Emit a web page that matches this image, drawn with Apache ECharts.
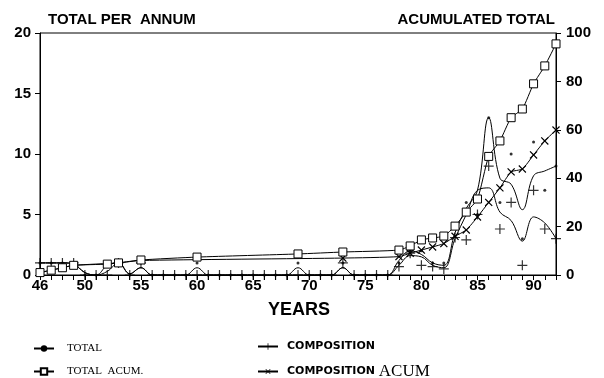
<!DOCTYPE html>
<html><head><meta charset="utf-8">
<script src="https://cdn.jsdelivr.net/npm/echarts@6/dist/echarts.min.js"></script>
<style>html,body{margin:0;padding:0;background:#fff}#c{width:604px;height:378px}</style>
</head><body><div id="c"></div>
<script>
// Years 46..92
const years = [];
for (let y = 46; y <= 92; y++) years.push(y);

// TOTAL per annum: data points (dots), one per year 46..92
const totalPoints = [1,1,1,1,0,0,1,1,0,1, 0,0,0,0,1,0,0,0,0,0, 0,0,0,1,0,0,0,1,0,0, 0,0,1,2,2,1,1,4,6,5, 13,6,10,3,11,7,9];
// TOTAL smoothed curve as drawn
const totalCurve = [1,1,1,0.9,0.2,0,0.8,1,0.1,0.6, 0,0,0,0,0.6,0,0,0,0,0, 0,0,0,0.6,0,0,0,0.6,0,0, 0,0,1.2,2,1.7,1,0.8,3.5,5.5,7, 13,8,7.5,5.4,8.2,8.6,9];
// COMPOSITION per annum points (+)
const compPoints = [1,1,1,1,0,0,0,1,0,1, 0,0,0,0,0,0,0,0,0,0, 0,0,0,0,0,0,0,1,0,0, 0,0,0.7,1.8,0.8,0.7,0.5,3.1,2.9,5, 9,3.8,6,0.8,7,3.8,3];
// COMPOSITION smoothed curve as drawn
const compCurve = [1,1,1,0.9,0.2,0,0.3,1,0.1,0.6, 0,0,0,0,0,0,0,0,0,0, 0,0,0,0,0,0,0,0.6,0,0, 0,0,0.8,1.6,1.5,0.8,0.6,3,5,7, 7.2,5.2,4.5,2.8,4.8,4.3,3];
// TOTAL ACUM (right axis), only at years where it changes
const totalAcumYears = [46,47,48,49,52,53,55,60,69,73,78,79,80,81,82,83,84,85,86,87,88,89,90,91,92];
const totalAcum      = [1,2,3,4,4.5,5,6.2,7.4,8.7,9.5,10.3,12,14.5,15.3,16.1,20.2,26,31.4,49,55.4,65,68.6,79,86.4,95.5];
// COMPOSITION ACUM (right axis)
const compAcumYears = [46,47,48,49,53,55,73,78,79,80,81,82,83,84,85,86,87,88,89,90,91,92];
const compAcum      = [1,2,3,4,5,6,7,7.6,9,10.3,11.6,13,16,18.6,24,30,36,42.6,43.8,49.6,55.4,59.9];

const xTickLabels = [46,50,55,60,65,70,75,80,85,90];

const pair = (xs, ys) => xs.map((x, i) => [x, ys[i]]);
const PLUS = 'path://M4.4,0h1.2v4.4h4.4v1.2h-4.4v4.4h-1.2v-4.4h-4.4v-1.2h4.4z';
const lbl = {fontFamily:'Liberation Sans', fontWeight:'bold', fontSize:15, color:'#000'};
const serif = {fontFamily:'Liberation Serif', fontSize:11, color:'#000', padding:[0,0,0,8]};
const richC = {a:{fontFamily:'DejaVu Sans', fontWeight:'bold', fontSize:11, color:'#000'},
               b:{fontFamily:'Liberation Serif', fontSize:17, color:'#000'}};
function leg(name, left, top, textStyle, formatter) {
  return {orient:'horizontal', left:left, top:top, itemWidth:20, itemHeight:8, data:[name],
          textStyle:textStyle, formatter:formatter};
}

const chart = echarts.init(document.getElementById('c'), null, {renderer:'canvas'});
chart.setOption({
  animation:false,
  backgroundColor:'#fff',
  title:[
    {text:'TOTAL PER  ANNUM', left:43, top:7, textStyle:{fontFamily:'Liberation Sans', fontWeight:'bold', fontSize:15, color:'#000'}},
    {text:'ACUMULATED TOTAL', right:44, top:7, textStyle:{fontFamily:'Liberation Sans', fontWeight:'bold', fontSize:15, color:'#000'}},
    {text:'YEARS', left:263, top:296, textStyle:{fontFamily:'Liberation Sans', fontWeight:'bold', fontSize:18, color:'#000'}}
  ],
  grid:{left:40, right:48, top:33, bottom:103, show:true, borderColor:'#000', borderWidth:1},
  xAxis:{type:'value', min:46, max:92, interval:1,
    axisLine:{lineStyle:{color:'#000', width:1}},
    axisTick:{show:true, length:5, lineStyle:{color:'#000'}},
    splitLine:{show:false},
    axisLabel:Object.assign({margin:3, showMinLabel:true, formatter:v => xTickLabels.includes(v) ? String(v) : ''}, lbl)
  },
  yAxis:[
    {type:'value', min:0, max:20, interval:5, position:'left',
      axisLine:{show:true, lineStyle:{color:'#000'}}, axisTick:{show:true, length:5, lineStyle:{color:'#000'}},
      splitLine:{show:false}, axisLabel:Object.assign({margin:9}, lbl)},
    {type:'value', min:0, max:100, interval:20, position:'right',
      axisLine:{show:true, lineStyle:{color:'#000'}}, axisTick:{show:true, length:5, lineStyle:{color:'#000'}},
      splitLine:{show:false}, axisLabel:Object.assign({margin:10}, lbl)}
  ],
  legend:[
    leg('TOTAL', 28, 338, serif, () => 'TOTAL'),
    leg('TOTAL ACUM.', 28, 361, serif, () => 'TOTAL  ACUM.'),
    leg('COMPOSITION', 252, 336, {color:'#000', padding:[0,0,0,4], rich:richC}, () => '{a|COMPOSITION}'),
    leg('COMPOSITION ACUM', 252, 358, {color:'#000', padding:[0,0,0,4], rich:richC}, () => '{a|COMPOSITION }{b|ACUM}')
  ],
  series:[
    {name:'TOTAL', type:'line', data:pair(years,totalCurve), smooth:0.4, showSymbol:false, symbol:'circle', symbolSize:4,
      lineStyle:{color:'#000', width:1}, itemStyle:{color:'#000'}, z:3},
    {name:'TOTAL pts', type:'scatter', data:pair(years,totalPoints), symbol:'circle', symbolSize:3, itemStyle:{color:'#000'}, z:4},
    {name:'TOTAL ACUM.', type:'line', yAxisIndex:1, data:pair(totalAcumYears,totalAcum), smooth:0.2, symbol:'rect', symbolSize:8,
      lineStyle:{color:'#000', width:1}, itemStyle:{color:'#fff', borderColor:'#000', borderWidth:1}, z:5},
    {name:'COMPOSITION', type:'line', data:pair(years,compCurve), smooth:0.4, showSymbol:false, symbol:PLUS, symbolSize:10,
      lineStyle:{color:'#000', width:1}, itemStyle:{color:'#000'}, z:3},
    {name:'COMP pts', type:'scatter', data:pair(years,compPoints), symbol:PLUS, symbolSize:10, itemStyle:{color:'#000'}, z:4},
    {name:'COMPOSITION ACUM', type:'line', yAxisIndex:1, data:pair(compAcumYears,compAcum), smooth:0.2, symbol:PLUS, symbolRotate:45, symbolSize:10,
      lineStyle:{color:'#000', width:1}, itemStyle:{color:'#000'}, z:4}
  ]
});
</script></body></html>
